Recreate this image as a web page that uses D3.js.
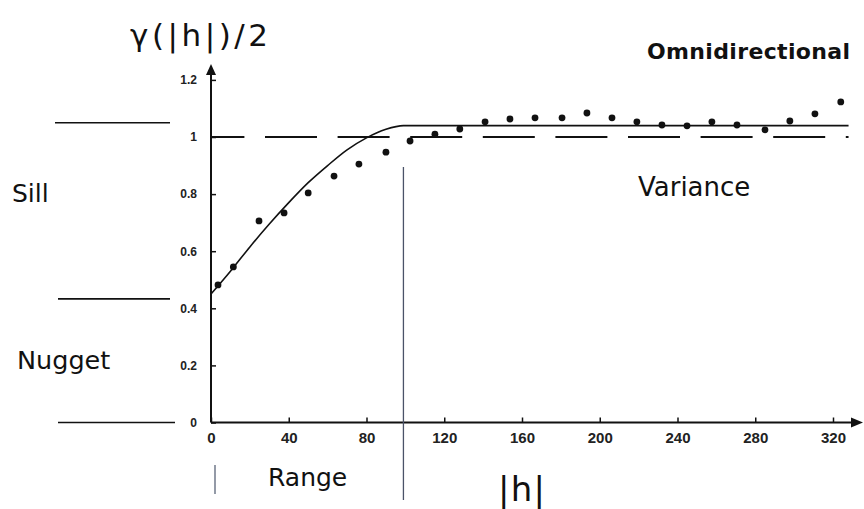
<!DOCTYPE html>
<html>
<head>
<meta charset="utf-8">
<script src="https://cdn.jsdelivr.net/npm/d3@7"></script>
<style>
  body { margin: 0; background: #fff; }
  svg { display: block; }
  .lbl { font-family: "DejaVu Sans", Verdana, sans-serif; fill: #111; }
  .tick text { font-family: "Liberation Sans", Arial, sans-serif; font-weight: bold; fill: #222; }
</style>
</head>
<body>
<div id="chart"></div>
<script>
// observed semivariogram (lag |h|, gamma/2)
const lagH = [3.6, 11.5, 24.7, 37.6, 50, 63.3, 76.1, 90, 102.4, 115.2, 128, 141, 153.8, 166.7,
  180.6, 193.4, 206.3, 219.1, 232, 244.9, 257.7, 270.6, 285, 297.8, 310.7, 324];
const gammaObs = [0.482, 0.545, 0.706, 0.734, 0.804, 0.863, 0.905, 0.947, 0.986, 1.01, 1.028, 1.053,
  1.063, 1.067, 1.067, 1.084, 1.067, 1.053, 1.042, 1.039, 1.053, 1.042, 1.025, 1.056, 1.081, 1.123];

// fitted model curve
const modelH = [0, 10, 20, 30, 40, 50, 60, 70, 80, 90, 99, 328];
const modelGamma = [0.45, 0.53, 0.615, 0.695, 0.77, 0.84, 0.9, 0.955, 0.997, 1.027, 1.04, 1.04];

const xTicks = [0, 40, 80, 120, 160, 200, 240, 280, 320];
const yTicks = [0, 0.2, 0.4, 0.6, 0.8, 1, 1.2];
const yTickLabels = ['0', '0.2', '0.4', '0.6', '0.8', '1', '1.2'];

const varianceLevel = 1;
const sillLevel = 1.05;
const nuggetLevel = 0.433;
const rangeH = 99;
const hMax = 328;

const width = 864, height = 509;

const svg = d3.select('#chart').append('svg')
  .attr('width', width).attr('height', height);
svg.append('rect').attr('width', width).attr('height', height).attr('fill', '#fff');

const x = d3.scaleLinear().domain([0, 320]).range([211, 833]);
const y = d3.scaleLinear().domain([0, 1]).range([422.5, 137]);

// left guide lines (sill / nugget / zero)
const guides = [[sillLevel, 55, 170], [nuggetLevel, 58, 170], [0, 58, 175]];
svg.selectAll('line.guide').data(guides).join('line').classed('guide', true)
  .attr('x1', d => d[1]).attr('x2', d => d[2])
  .attr('y1', d => y(d[0])).attr('y2', d => y(d[0]))
  .attr('stroke', '#111').attr('stroke-width', 1.6);

// axes
const yAxis = d3.axisLeft(y).tickValues(yTicks)
  .tickFormat((d, i) => yTickLabels[i]).tickSizeInner(-5).tickSizeOuter(0).tickPadding(14);
const gy = svg.append('g').attr('transform', `translate(${x(0)},0)`).call(yAxis);
gy.select('.domain').remove();
gy.selectAll('.tick line').attr('stroke', '#111').attr('stroke-width', 1.5);
gy.selectAll('.tick text').style('font-size', '12px');

const xAxis = d3.axisBottom(x).tickValues(xTicks)
  .tickSizeInner(-5).tickSizeOuter(0).tickPadding(10);
const gx = svg.append('g').attr('transform', `translate(0,${y(0)})`).call(xAxis);
gx.select('.domain').remove();
gx.selectAll('.tick line').attr('stroke', '#111').attr('stroke-width', 1.5);
gx.selectAll('.tick text').style('font-size', '15px');

// axis lines with arrows
svg.append('line').attr('x1', x(0)).attr('x2', x(0)).attr('y1', y(0)).attr('y2', 70)
  .attr('stroke', '#111').attr('stroke-width', 2);
svg.append('path').attr('d', `M${x(0)},64 L${x(0) - 5},75 L${x(0) + 5},75 Z`).attr('fill', '#111');
svg.append('line').attr('x1', x(0)).attr('x2', 856).attr('y1', y(0)).attr('y2', y(0))
  .attr('stroke', '#111').attr('stroke-width', 2);
svg.append('path').attr('d', `M863,${y(0)} L851,${y(0) - 5} L851,${y(0) + 5} Z`).attr('fill', '#111');

// range line
svg.append('line').attr('x1', x(rangeH)).attr('x2', x(rangeH)).attr('y1', 167).attr('y2', 500)
  .attr('stroke', '#4b5368').attr('stroke-width', 1.3);
svg.append('line').attr('x1', 215).attr('x2', 215).attr('y1', 465).attr('y2', 494)
  .attr('stroke', '#5a6478').attr('stroke-width', 1.3);

// variance (dashed)
svg.append('line').attr('x1', x(0)).attr('x2', x(hMax))
  .attr('y1', y(varianceLevel)).attr('y2', y(varianceLevel))
  .attr('stroke', '#111').attr('stroke-width', 2)
  .attr('stroke-dasharray', '52,20.6').attr('stroke-dashoffset', 18.6);

// model curve
const modelPts = modelH.map((h, i) => [h, modelGamma[i]]);
svg.append('path').datum(modelPts)
  .attr('d', d3.line().x(d => x(d[0])).y(d => y(d[1])).curve(d3.curveMonotoneX))
  .attr('fill', 'none').attr('stroke', '#111').attr('stroke-width', 1.6);

// observed points
svg.selectAll('circle.obs').data(lagH.map((h, i) => [h, gammaObs[i]])).join('circle')
  .classed('obs', true)
  .attr('cx', d => x(d[0])).attr('cy', d => y(d[1])).attr('r', 3.4).attr('fill', '#111');

// text labels
svg.append('text').classed('lbl', true).attr('x', 130).attr('y', 46)
  .attr('textLength', 138).style('font-size', '31px').text('γ(|h|)/2');
svg.append('text').classed('lbl', true).attr('x', 647).attr('y', 59)
  .attr('textLength', 203).style('font-size', '22px').style('font-weight', 'bold').text('Omnidirectional');
svg.append('text').classed('lbl', true).attr('x', 638).attr('y', 196)
  .style('font-size', '26px').text('Variance');
svg.append('text').classed('lbl', true).attr('x', 12).attr('y', 202)
  .style('font-size', '25px').text('Sill');
svg.append('text').classed('lbl', true).attr('x', 17).attr('y', 369)
  .style('font-size', '25.5px').text('Nugget');
svg.append('text').classed('lbl', true).attr('x', 268).attr('y', 486)
  .style('font-size', '25px').text('Range');
svg.append('text').classed('lbl', true).attr('x', 498).attr('y', 501)
  .attr('textLength', 47).style('font-size', '34px').text('|h|');
</script>
</body>
</html>
